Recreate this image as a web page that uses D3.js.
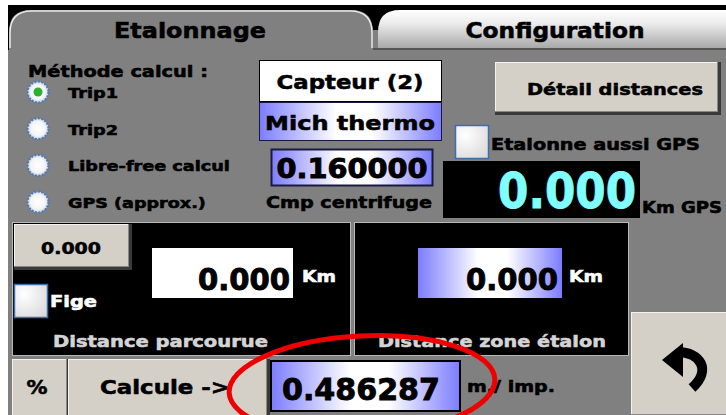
<!DOCTYPE html>
<html>
<head>
<meta charset="utf-8">
<script src="https://cdn.jsdelivr.net/npm/d3@7"></script>
<style>
  body { margin: 0; background: #fff; }
  svg { display: block; }
  text { font-family: "DejaVu Sans", Verdana, sans-serif; font-weight: bold; }
</style>
</head>
<body>
<svg id="screen" width="726" height="415"></svg>
<script>
// data
const tabs = ['Etalonnage', 'Configuration']
const methodTitle = 'Méthode calcul :'
const methods = ['Trip1', 'Trip2', 'Libre-free calcul', 'GPS (approx.)']
const selectedMethod = 0
const sensorLabels = ['Capteur (2)', 'Mich thermo']
const centrifugeValue = '0.160000'
const centrifugeLabel = 'Cmp centrifuge'
const detailLabel = 'Détail distances'
const gpsCheckLabel = 'Etalonne aussi GPS'
const gpsKm = '0.000'
const gpsUnit = 'Km GPS'
const panelTitles = ['Distance parcourue', 'Distance zone étalon']
const panelValues = ['0.000', '0.000']
const panelUnit = 'Km'
const resetValue = '0.000'
const figeLabel = 'Fige'
const bottomButtons = ['%', 'Calcule ->']
const resultValue = '0.486287'
const resultUnit = 'm./ imp.'

const svg = d3.select('#screen')
const defs = svg.append('defs')

const blueGrad = defs.append('linearGradient').attr('id', 'blue')
blueGrad.selectAll('stop')
  .data([[0, '#7c7cff'], [0.42, '#ffffff'], [0.62, '#ffffff'], [1, '#7c7cff']])
  .join('stop').attr('offset', d => d[0]).attr('stop-color', d => d[1])

const tabGrad = defs.append('linearGradient').attr('id', 'tabgrad')
  .attr('x1', 0).attr('x2', 0).attr('y1', 0).attr('y2', 1)
tabGrad.selectAll('stop')
  .data([[0, '#ffffff'], [0.35, '#ececec'], [1, '#a9a9a9']])
  .join('stop').attr('offset', d => d[0]).attr('stop-color', d => d[1])

const boxGrad = defs.append('radialGradient').attr('id', 'boxgrad')
  .attr('cx', 0.3).attr('cy', 0.3).attr('r', 0.9)
boxGrad.selectAll('stop')
  .data([[0, '#ffffff'], [1, '#d8d8d8']])
  .join('stop').attr('offset', d => d[0]).attr('stop-color', d => d[1])

const radioGrad = defs.append('radialGradient').attr('id', 'radiograd')
radioGrad.selectAll('stop')
  .data([[0, '#ffffff'], [0.7, '#f4f4f4'], [1, '#c8d0dc']])
  .join('stop').attr('offset', d => d[0]).attr('stop-color', d => d[1])

// text helper: size + target width (squeezed horizontally so the box stays true)
const label = (g, str, x, y, size, width, fill, anchor) => {
  const t = g.append('g').attr('transform', `translate(${x},${y})`)
    .append('text')
    .attr('font-size', size)
    .attr('fill', fill || '#000')
    .attr('stroke', fill || '#000')
    .attr('stroke-width', size > 24 ? 0.9 : 0.55)
    .attr('text-anchor', anchor || 'start')
    .text(str)
  if (width) {
    const nat = t.node().getComputedTextLength()
    t.attr('transform', `scale(${width / nat},1)`)
  }
  return t
}

// bevel button
const button = (x, y, w, h) => {
  const g = svg.append('g')
  g.append('rect').attr('x', x).attr('y', y).attr('width', w).attr('height', h).attr('fill', '#3a3a3a')
  g.append('rect').attr('x', x).attr('y', y).attr('width', w - 3).attr('height', h - 3).attr('fill', '#8a8780')
  g.append('rect').attr('x', x).attr('y', y).attr('width', w - 4).attr('height', h - 4).attr('fill', '#f4f2ee')
  g.append('rect').attr('x', x + 1).attr('y', y + 1).attr('width', w - 5).attr('height', h - 5).attr('fill', '#d4d0c8')
  return g
}

const checkbox = (x, y, s) => {
  svg.append('rect').attr('x', x + 0.5).attr('y', y + 0.5).attr('width', s).attr('height', s)
    .attr('fill', 'url(#boxgrad)').attr('stroke', '#3d6ea8').attr('stroke-width', 1.5)
}

// background
svg.append('rect').attr('x', 8).attr('y', 5).attr('width', 718).attr('height', 410).attr('fill', '#000')
svg.append('rect').attr('x', 8).attr('y', 50).attr('width', 718).attr('height', 365).attr('fill', '#808080')

// tabs
const r = 22
svg.append('path')
  .attr('d', `M9,50 L9,${10 + r} Q9,10 ${9 + r},10 L${373 - r},10 Q373,10 373,${10 + r} L373,50 Z`)
  .attr('fill', '#808080')
svg.append('path')
  .attr('d', `M10,48 L10,${11 + r} Q10,11 ${10 + r},11 L${372 - r},11 Q372,11 372,${11 + r} L372,48`)
  .attr('fill', 'none').attr('stroke', '#e8e8e8').attr('stroke-width', 1.5)
svg.append('path')
  .attr('d', `M378,48 L378,${10 + r} Q378,10 ${378 + r},10 L726,10 L726,48 Z`)
  .attr('fill', 'url(#tabgrad)')
svg.append('rect').attr('x', 373).attr('y', 30).attr('width', 5).attr('height', 20).attr('fill', '#808080')
svg.append('rect').attr('x', 373).attr('y', 48).attr('width', 353).attr('height', 2).attr('fill', '#555')

const tabX = d3.scalePoint().domain(tabs).range([190, 555])
tabs.forEach(t => label(svg, t, tabX(t), 38, 21, t === 'Etalonnage' ? 152 : 179, '#000', 'middle'))

// methods
label(svg, methodTitle, 28, 77, 16, 180)
const rowY = d3.scalePoint().domain(methods).range([92, 202])
const radios = svg.append('g').selectAll('g').data(methods).join('g')
  .attr('transform', d => `translate(38,${rowY(d)})`)
radios.append('circle').attr('r', 10.5).attr('fill', 'url(#radiograd)')
  .attr('stroke', '#4a7ab8').attr('stroke-width', 2.2).attr('stroke-dasharray', '2,1.5')
radios.filter((d, i) => i === selectedMethod).append('circle').attr('r', 4.5).attr('fill', '#2fb030')
const methodWidths = [50, 50, 162, 138]
radios.each(function (d, i) {
  label(d3.select(this), d, 30, 6, 14, methodWidths[i])
})

// sensor boxes
svg.append('rect').attr('x', 259.5).attr('y', 60.5).attr('width', 182).attr('height', 41)
  .attr('fill', '#fff').attr('stroke', '#000')
label(svg, sensorLabels[0], 350, 89, 20, 147, '#000', 'middle')
svg.append('rect').attr('x', 259.5).attr('y', 102.5).attr('width', 182).attr('height', 38)
  .attr('fill', 'url(#blue)').attr('stroke', '#1a1a40')
label(svg, sensorLabels[1], 350, 130, 20, 170, '#000', 'middle')
svg.append('rect').attr('x', 271.5).attr('y', 149.5).attr('width', 161).attr('height', 36)
  .attr('fill', 'url(#blue)').attr('stroke', '#1a1a40').attr('stroke-width', 2)
label(svg, centrifugeValue, 352, 178, 26, 151, '#000', 'middle')
label(svg, centrifugeLabel, 349, 208, 15, 166, '#000', 'middle')

// detail button
button(495, 62, 226, 53)
label(svg, detailLabel, 615, 95, 16, 176, '#000', 'middle')

// gps check + display
checkbox(455, 125, 33)
label(svg, gpsCheckLabel, 491, 150, 15, 209)
svg.append('rect').attr('x', 443).attr('y', 161).attr('width', 197).attr('height', 57).attr('fill', '#000')
label(svg, gpsKm, 636, 208, 50, 138, '#80ffff', 'end')
label(svg, gpsUnit, 642, 213, 15, 80)

// distance panels
const panelX = d3.scaleOrdinal().domain(panelTitles).range([12, 354])
const panelW = [338, 274]
const panels = svg.append('g').selectAll('g').data(panelTitles).join('g')
  .attr('transform', d => `translate(${panelX(d)},222)`)
panels.append('rect').attr('x', 0.5).attr('y', 0.5).attr('width', (d, i) => panelW[i]).attr('height', 133)
  .attr('fill', '#000').attr('stroke', '#b8b8b8')
const titleWidths = [215, 228]
const titleX = [41, 24]
panels.each(function (d, i) {
  label(d3.select(this), d, titleX[i], 125, 16, titleWidths[i], '#d4d4d4')
})

// left panel contents
button(14, 224, 118, 46)
label(svg, resetValue, 71, 254, 16, 60, '#000', 'middle')
svg.append('rect').attr('x', 152).attr('y', 248).attr('width', 141).attr('height', 50).attr('fill', '#fff')
label(svg, panelValues[0], 290, 290, 30, 92, '#000', 'end')
label(svg, panelUnit, 302, 282, 15, 34, '#fff')
checkbox(14, 284, 33)
label(svg, figeLabel, 50, 307, 15, 47, '#fff')

// right panel contents
svg.append('rect').attr('x', 418).attr('y', 248).attr('width', 144).attr('height', 50).attr('fill', 'url(#blue)')
label(svg, panelValues[1], 558, 290, 30, 92, '#000', 'end')
label(svg, panelUnit, 569, 282, 15, 34, '#fff')

// bottom row
const bx = d3.scaleOrdinal().domain(bottomButtons).range([12, 68])
const bw = [58, 202]
bottomButtons.forEach((b, i) => {
  button(bx(b), 359, bw[i], 60)
})
label(svg, bottomButtons[0], 37, 394, 20, 21, '#000', 'middle')
label(svg, bottomButtons[1], 165, 394, 19, 130, '#000', 'middle')

svg.append('rect').attr('x', 271).attr('y', 361).attr('width', 189).attr('height', 50)
  .attr('fill', 'url(#blue)').attr('stroke', '#000').attr('stroke-width', 2)
label(svg, resultValue, 282, 400, 31, 158)
label(svg, resultUnit, 467, 392, 15, 88)

// return button
button(631, 312, 100, 106)
svg.append('path')
  .attr('d', 'M678,352 C700,352 712,370 692,388')
  .attr('fill', 'none').attr('stroke', '#000').attr('stroke-width', 10).attr('stroke-linecap', 'butt')
svg.append('path')
  .attr('d', 'M662,360 L683,343 L683,377 Z').attr('fill', '#000')

// red ellipse
svg.append('ellipse').attr('cx', 362).attr('cy', 386).attr('rx', 133).attr('ry', 50)
  .attr('transform', 'rotate(-3,362,386)')
  .attr('fill', 'none').attr('stroke', '#ee0000').attr('stroke-width', 5)
</script>
</body>
</html>
